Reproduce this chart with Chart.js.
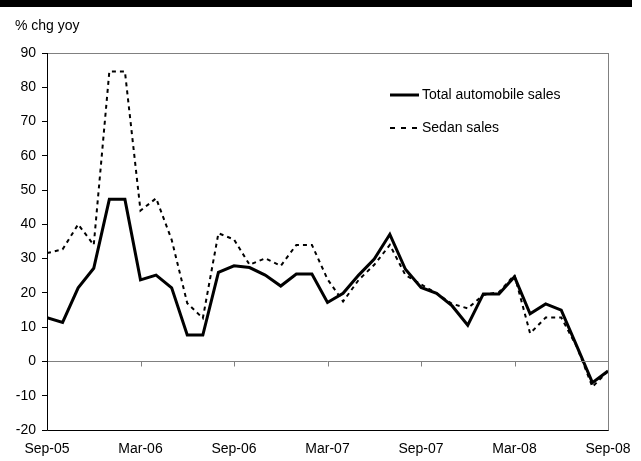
<!DOCTYPE html>
<html>
<head>
<meta charset="utf-8">
<script src="https://cdn.jsdelivr.net/npm/chart.js@4"></script>
<style>
  html, body { margin: 0; padding: 0; background: #fff; }
  #wrap { position: relative; width: 641px; height: 461px; }
  #titlebar { position: absolute; left: 0; top: 0; width: 632px; height: 7px; background: #000; }
  #unit { position: absolute; left: 15px; top: 17px; font: 14px "Liberation Sans", Arial, sans-serif; color: #000; }
  canvas { position: absolute; left: 0; top: 0; }
</style>
</head>
<body>
<div id="wrap">
  <canvas id="c" width="641" height="461"></canvas>
  <div id="titlebar"></div>
  <div id="unit">% chg yoy</div>
</div>
<script>
// Monthly, Sep-05 .. Sep-08 (37 points), % chg yoy
const months = ['Sep-05','Oct-05','Nov-05','Dec-05','Jan-06','Feb-06','Mar-06','Apr-06','May-06','Jun-06','Jul-06','Aug-06',
                'Sep-06','Oct-06','Nov-06','Dec-06','Jan-07','Feb-07','Mar-07','Apr-07','May-07','Jun-07','Jul-07','Aug-07',
                'Sep-07','Oct-07','Nov-07','Dec-07','Jan-08','Feb-08','Mar-08','Apr-08','May-08','Jun-08','Jul-08','Aug-08','Sep-08'];
const totalSales = [12.8, 11.4, 21.5, 27.2, 47.3, 47.3, 23.8, 25.2, 21.5, 7.7, 7.7, 26.0,
                    27.9, 27.4, 25.2, 22.0, 25.5, 25.5, 17.2, 19.9, 25.2, 29.9, 37.1, 26.9,
                    21.6, 19.9, 16.2, 10.6, 19.7, 19.7, 24.7, 13.9, 16.8, 15.0, 4.5, -6.2, -2.8];
const sedanSales = [31.6, 32.7, 40.0, 34.0, 84.6, 84.6, 44.0, 47.6, 35.5, 17.0, 12.6, 37.4,
                    35.6, 28.2, 30.1, 27.9, 34.0, 34.0, 24.0, 17.5, 23.8, 28.2, 34.0, 25.2,
                    22.5, 19.9, 16.8, 15.5, 19.4, 20.2, 25.2, 8.2, 12.8, 12.8, 4.3, -7.4, -2.8];
const xTickLabels = ['Sep-05','Mar-06','Sep-06','Mar-07','Sep-07','Mar-08','Sep-08'];
const yMin = -20, yMax = 90, yStep = 10;

const FONT = '"Liberation Sans", Arial, sans-serif';

// ── Frame, zero line, x labels and legend ────────────────────────────────
const framePlugin = {
  id: 'frame',
  afterDatasetsDraw(chart) {
    const { ctx, chartArea: a, scales: { x, y } } = chart;
    ctx.save();
    ctx.strokeStyle = '#808080';
    ctx.lineWidth = 1;
    ctx.strokeRect(a.left + 0.5, a.top + 0.5, a.right - a.left, a.bottom - a.top);

    // zero line with downward tick marks every 6 months
    const y0 = Math.round(y.getPixelForValue(0)) + 0.5;
    ctx.beginPath();
    ctx.moveTo(a.left, y0); ctx.lineTo(a.right, y0);
    for (let i = 0; i < xTickLabels.length; i++) {
      const px = Math.round(x.getPixelForValue(i * 6)) + 0.5;
      ctx.moveTo(px, y0); ctx.lineTo(px, y0 + 5);
    }
    ctx.stroke();

    // y axis and bottom edge (black)
    ctx.strokeStyle = '#000';
    ctx.beginPath();
    ctx.moveTo(a.left + 0.5, a.top); ctx.lineTo(a.left + 0.5, a.bottom + 0.5);
    ctx.lineTo(a.right + 0.5, a.bottom + 0.5);
    ctx.stroke();

    // x labels at the bottom, kept inside the canvas
    ctx.fillStyle = '#000';
    ctx.font = '14px ' + FONT;
    ctx.textBaseline = 'middle';
    ctx.textAlign = 'center';
    xTickLabels.forEach((lab, i) => {
      const w = ctx.measureText(lab).width;
      let px = x.getPixelForValue(i * 6);
      px = Math.max(px, w / 2 + 1);
      px = Math.min(px, chart.width - w / 2 - 1);
      ctx.fillText(lab, px, 449);
    });

    // legend
    ctx.textAlign = 'left';
    chart.data.datasets.forEach((ds, i) => {
      const ly = 95 + i * 33;
      ctx.strokeStyle = ds.borderColor;
      ctx.lineWidth = ds.borderWidth;
      ctx.setLineDash(ds.legendDash || []);
      ctx.beginPath();
      ctx.moveTo(390, ly); ctx.lineTo(419, ly);
      ctx.stroke();
      ctx.setLineDash([]);
      ctx.fillText(ds.label, 422, ly);
    });
    ctx.restore();
  }
};

new Chart(document.getElementById('c').getContext('2d'), {
  type: 'line',
  data: {
    datasets: [
      {
        label: 'Total automobile sales',
        data: totalSales.map((v, i) => ({ x: i, y: v })),
        borderColor: '#000',
        borderWidth: 3,
        pointRadius: 0,
        tension: 0,
      },
      {
        label: 'Sedan sales',
        data: sedanSales.map((v, i) => ({ x: i, y: v })),
        borderColor: '#000',
        borderWidth: 2,
        borderDash: [4, 4],
        legendDash: [5, 6],
        pointRadius: 0,
        tension: 0,
      },
    ]
  },
  options: {
    responsive: false,
    animation: false,
    layout: { padding: { top: 53, right: 33, left: 0, bottom: 0 } },
    plugins: { legend: { display: false }, tooltip: { enabled: false } },
    scales: {
      x: {
        type: 'linear',
        min: 0, max: months.length - 1,
        grid: { display: false, drawTicks: false },
        border: { display: false },
        ticks: { display: false },
        afterFit: s => { s.height = 31; },
      },
      y: {
        min: yMin, max: yMax,
        grid: { drawOnChartArea: false, drawTicks: true, tickLength: 5, color: '#000' },
        border: { display: false },
        ticks: { stepSize: yStep, color: '#000', padding: 6, font: { family: FONT, size: 14 } },
        afterFit: s => { s.width = 47; },
      }
    }
  },
  plugins: [framePlugin]
});
</script>
</body>
</html>
